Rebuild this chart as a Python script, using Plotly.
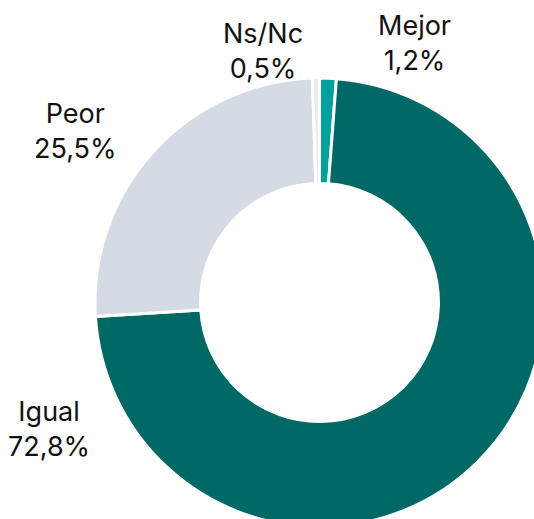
import plotly.graph_objects as go

# ---- data ----
categories = ["Mejor", "Igual", "Peor", "Ns/Nc"]
values = [1.2, 72.8, 25.5, 0.5]
colors = ["#00a19a", "#006865", "#d5dbe4", "#e8ebf0"]

def fmt(v):
    return f"{v:.1f}".replace(".", ",") + "%"

W, H = 544, 527  # figure size in px (donut slightly overflows the 534x519 view)

def px(x, y):
    return x / W, 1 - y / H

fig = go.Figure()
fig.add_trace(go.Pie(
    labels=categories,
    values=values,
    marker=dict(colors=colors, line=dict(color="white", width=3)),
    hole=0.53,
    sort=False,
    direction="clockwise",
    rotation=0,
    textinfo="none",
    hoverinfo="label+percent",
    showlegend=False,
    domain=dict(x=[95 / W, 1], y=[0, 1 - 78 / H]),
))

label_pos = {"Mejor": (414, 43), "Igual": (49, 429), "Peor": (75, 131), "Ns/Nc": (263, 51)}
for name, val in zip(categories, values):
    x, y = px(*label_pos[name])
    fig.add_annotation(
        x=x, y=y, xref="paper", yref="paper",
        text=f"{name}<br>{fmt(val)}",
        showarrow=False, xanchor="center", yanchor="middle",
        font=dict(family="Inter", size=27, color="#111111"),
    )

fig.update_layout(
    width=W, height=H,
    margin=dict(l=0, r=0, t=0, b=0),
    paper_bgcolor="white",
    plot_bgcolor="white",
)

page_css = (
    "document.documentElement.style.overflow='hidden';"
    "document.body.style.overflow='hidden';"
    "document.body.style.margin='0';"
)
fig.write_html("out.html", post_script=page_css, config={"displayModeBar": False})
